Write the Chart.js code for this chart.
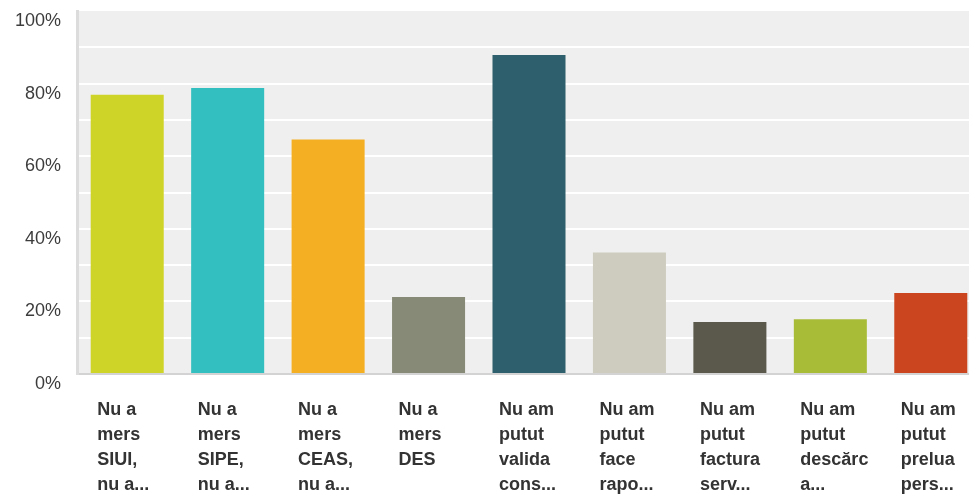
<!DOCTYPE html>
<html>
<head>
<meta charset="utf-8">
<script src="https://cdn.jsdelivr.net/npm/chart.js@4/dist/chart.umd.min.js"></script>
<style>
  html, body { margin: 0; padding: 0; background: #fff; overflow: hidden; }
  #wrap { position: relative; width: 981px; height: 496px; }
</style>
</head>
<body>
<div id="wrap"><canvas id="c"></canvas></div>
<script>
const categories = [
  ["Nu a", "mers", "SIUI,", "nu a..."],
  ["Nu a", "mers", "SIPE,", "nu a..."],
  ["Nu a", "mers", "CEAS,", "nu a..."],
  ["Nu a", "mers", "DES"],
  ["Nu am", "putut", "valida", "cons..."],
  ["Nu am", "putut", "face", "rapo..."],
  ["Nu am", "putut", "factura", "serv..."],
  ["Nu am", "putut", "descărc", "a..."],
  ["Nu am", "putut", "prelua", "pers..."]
];
const values = [76.9, 78.8, 64.6, 21.2, 87.9, 33.5, 14.3, 15.1, 22.3];
const barColors = ["#CFD428", "#33BEC0", "#F5AF22", "#888A78", "#2D606C", "#CECCBE", "#5B594B", "#A9BC38", "#CB461E"];
const yTickLabels = { 0: "0%", 20: "20%", 40: "40%", 60: "60%", 80: "80%", 100: "100%" };

const plotBg = {
  id: 'plotBg',
  beforeDraw(chart) {
    const { ctx, chartArea: a } = chart;
    ctx.save();
    ctx.fillStyle = '#efefef';
    ctx.fillRect(a.left, a.top, a.right - a.left, a.bottom - a.top);
    ctx.restore();
  }
};

new Chart(document.getElementById('c'), {
  type: 'bar',
  data: {
    labels: categories,
    datasets: [{
      data: values,
      backgroundColor: barColors,
      borderWidth: 0,
      barPercentage: 0.727,
      categoryPercentage: 1.0
    }]
  },
  options: {
    responsive: true,
    maintainAspectRatio: false,
    animation: false,
    layout: { padding: { top: 11, left: 0, right: 0, bottom: 0 } },
    plugins: { legend: { display: false }, tooltip: { enabled: false } },
    scales: {
      x: {
        grid: { display: false, drawTicks: false },
        border: { display: true, color: '#d3d3d3', width: 2 },
        ticks: {
          align: 'start',
          labelOffset: -30,
          padding: 24,
          autoSkip: false,
          maxRotation: 0,
          minRotation: 0,
          color: '#333',
          font: { family: 'Liberation Sans, Arial, sans-serif', size: 18, weight: 'bold', lineHeight: 25 / 18 }
        },
        afterFit(scale) { scale.height = 122; scale.paddingLeft = 0; scale.paddingRight = 0; }
      },
      y: {
        min: 0,
        max: 100,
        grid: {
          drawTicks: false,
          lineWidth: 2,
          color: (c) => (c.tick && (c.tick.value === 100 || c.tick.value === 0)) ? 'rgba(0,0,0,0)' : '#ffffff'
        },
        border: { display: true, color: '#dcdcdc', width: 3 },
        ticks: {
          stepSize: 10,
          padding: 16,
          labelOffset: 10,
          color: '#3c3c3c',
          font: { family: 'Liberation Sans, Arial, sans-serif', size: 18 },
          callback: (v) => yTickLabels[v] !== undefined ? yTickLabels[v] : ''
        },
        afterFit(scale) { scale.width = 77; scale.paddingTop = 0; scale.paddingBottom = 0; }
      }
    }
  },
  plugins: [plotBg]
});
</script>
</body>
</html>
